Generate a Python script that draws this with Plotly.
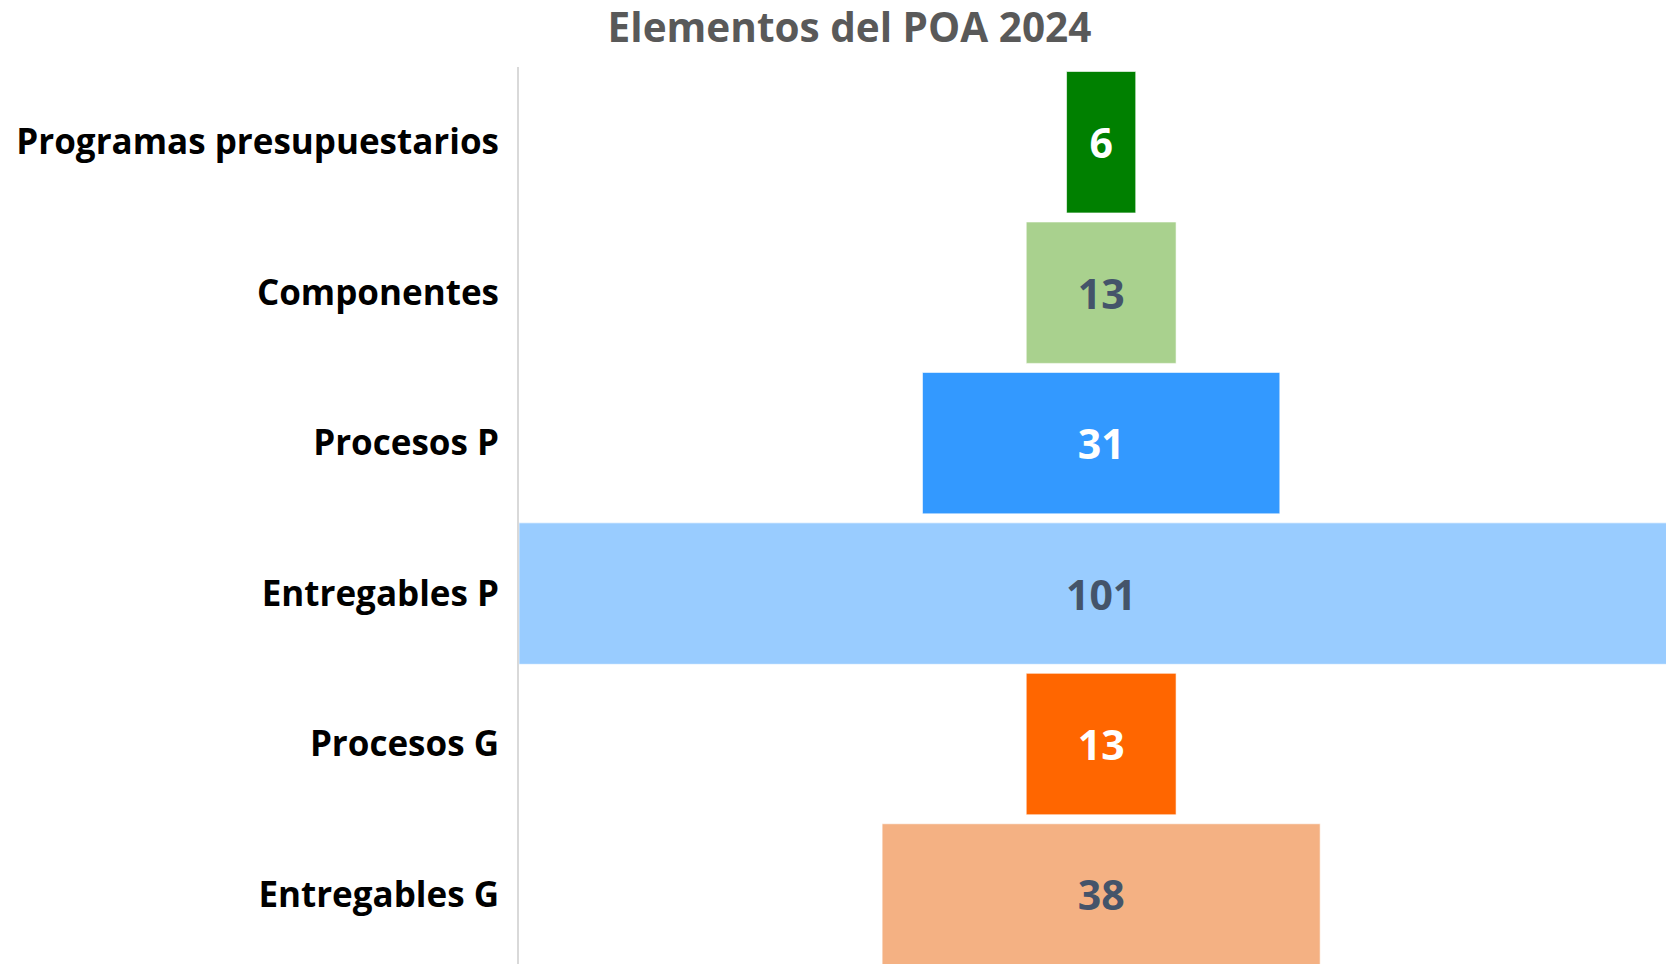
import plotly.graph_objects as go

categories = ["Programas presupuestarios", "Componentes", "Procesos P", "Entregables P", "Procesos G", "Entregables G"]
values = [6, 13, 31, 101, 13, 38]
bar_colors = ["#008000", "#A9D18E", "#3399FF", "#99CCFF", "#FF6600", "#F4B183"]
text_colors = ["#FFFFFF", "#44546A", "#FFFFFF", "#44546A", "#FFFFFF", "#44546A"]
title_text = "Elementos del POA 2024"

W, H = 1666, 964
FONT = "Open Sans"

fig = go.Figure(go.Funnel(
    y=categories,
    x=values,
    marker=dict(color=bar_colors, line=dict(color="rgba(255,255,255,0.6)", width=1)),
    connector=dict(visible=False),
    textinfo="value",
    textposition="inside",
    insidetextanchor="middle",
    textfont=dict(family=FONT, size=41, color=text_colors, weight=700),
    constraintext="none",
))

fig.update_layout(
    width=W, height=H,
    margin=dict(l=519, r=0, t=67, b=0),
    paper_bgcolor="white",
    plot_bgcolor="white",
    funnelgap=0.06,
    showlegend=False,
    title=dict(
        text=title_text,
        x=849.5 / W, xref="container", xanchor="center",
        y=1 - 28 / H, yref="container", yanchor="middle",
        font=dict(family=FONT, size=40.5, color="#595959", weight=700),
    ),
    xaxis=dict(visible=False, range=[-50.5, 49.0], fixedrange=True),
    yaxis=dict(
        range=[5.462, -0.5],
        showline=True, linecolor="#D9D9D9", linewidth=2,
        showgrid=False, zeroline=False,
        ticks="", ticklabelstandoff=11,
        tickfont=dict(family=FONT, size=35, color="#000000", weight=700),
    ),
)

fig.write_html(
    "out.html",
    config={"displayModeBar": False},
    post_script="document.body.style.margin='0';document.body.style.overflow='hidden';"
                "document.documentElement.style.overflow='hidden';",
)
